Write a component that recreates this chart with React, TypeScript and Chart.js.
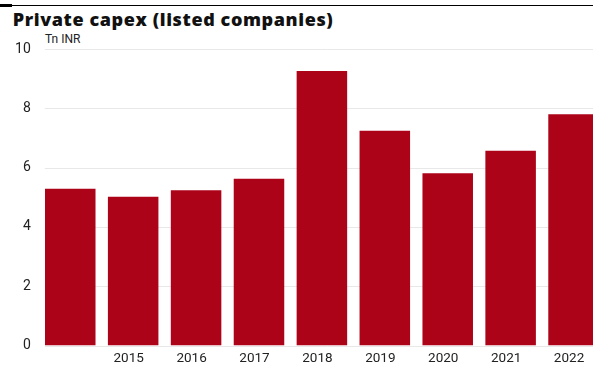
import React, { useEffect, useRef } from "react";
import { Chart, registerables } from "chart.js";

Chart.register(...registerables);

const title = "Private capex (listed companies)";
const unitLabel = "Tn INR";
const categories = ["", "2015", "2016", "2017", "2018", "2019", "2020", "2021", "2022"];
const capex = [5.29, 5.02, 5.24, 5.62, 9.26, 7.24, 5.81, 6.57, 7.8];
const yMin = 0;
const yMax = 10;
const yStep = 2;

const BAR_COLOR = "#ad0319";
const TEXT_COLOR = "#222222";
const GRID_COLOR = "#e8e8e8";

const gridPlugin = {
  id: "customGrid",
  beforeDatasetsDraw(chart: any) {
    const { ctx, chartArea } = chart;
    const y = chart.scales.y;
    ctx.save();
    ctx.strokeStyle = GRID_COLOR;
    ctx.lineWidth = 1;
    y.ticks.forEach((t: any) => {
      const py = Math.round(y.getPixelForValue(t.value)) + 0.5;
      ctx.beginPath();
      ctx.moveTo(chartArea.left + 6, py);
      ctx.lineTo(chart.width, py);
      ctx.stroke();
    });
    ctx.restore();
  },
};

export default function App() {
  const canvasRef = useRef<HTMLCanvasElement | null>(null);

  useEffect(() => {
    const canvas = canvasRef.current;
    if (!canvas) return;
    const chart = new Chart(canvas, {
      type: "bar",
      data: {
        labels: categories,
        datasets: [
          {
            data: capex,
            backgroundColor: BAR_COLOR,
            borderWidth: 0,
            categoryPercentage: 0.803,
            barPercentage: 1,
          },
        ],
      },
      options: {
        responsive: false,
        animation: false,
        devicePixelRatio: 1,
        layout: { padding: { top: 49, right: 5, bottom: 0, left: 0 } },
        plugins: {
          legend: { display: false },
          tooltip: { enabled: false },
          title: { display: false },
        },
        scales: {
          x: {
            grid: { display: false, drawTicks: false },
            border: { display: false },
            ticks: {
              color: TEXT_COLOR,
              font: { family: "Roboto", size: 13.5 },
              padding: 5,
              labelOffset: -4.5,
              maxRotation: 0,
              autoSkip: false,
            },
            afterFit(scale: any) {
              scale.height = 21.5;
            },
          },
          y: {
            min: yMin,
            max: yMax,
            grid: { display: false, drawTicks: false },
            border: { display: false },
            ticks: {
              stepSize: yStep,
              color: TEXT_COLOR,
              font: { family: "Roboto", size: 14 },
              padding: 8,
            },
            afterFit(scale: any) {
              scale.width = 38.8;
            },
          },
        },
      },
      plugins: [gridPlugin],
    });
    return () => chart.destroy();
  }, []);

  return (
    <div
      style={{
        position: "fixed",
        left: 0,
        top: 0,
        width: 593,
        height: 367,
        overflow: "hidden",
        background: "#ffffff",
      }}
    >
      <div style={{ position: "absolute", left: 0, top: 5, width: 593, height: 1, background: "#000" }} />
      <div style={{ position: "absolute", left: 0, top: 4, width: 12, height: 3, background: "#000" }} />
      <div
        style={{
          position: "absolute",
          left: 12.7,
          top: 9.5,
          fontFamily: "'Open Sans', sans-serif",
          fontWeight: 800,
          fontSize: 18,
          lineHeight: "18px",
          letterSpacing: 0.6,
          color: "#111",
          whiteSpace: "nowrap",
        }}
      >
        {title}
      </div>
      <div
        style={{
          position: "absolute",
          left: 45,
          top: 33.2,
          fontFamily: "Roboto, sans-serif",
          fontSize: 12,
          lineHeight: "12px",
          color: TEXT_COLOR,
          whiteSpace: "nowrap",
        }}
      >
        {unitLabel}
      </div>
      <canvas
        ref={canvasRef}
        width={610}
        height={367}
        style={{ position: "absolute", left: 0, top: 0, width: 610, height: 367 }}
      />
    </div>
  );
}
